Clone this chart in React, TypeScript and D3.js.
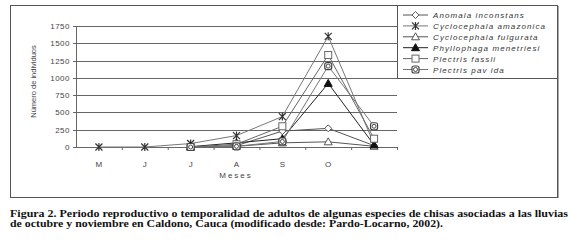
import React, { useEffect, useRef } from 'react';
import * as d3 from 'd3';

const months = ['M', 'J', 'J2', 'A', 'S', 'O', 'N'];
const monthLabels = ['M', 'J', 'J', 'A', 'S', 'O', ''];
const yTicks = [0, 250, 500, 750, 1000, 1250, 1500, 1750];

const anomala = [null, null, 0, 20, 230, 270, 20];
const amazonica = [0, 0, 50, 165, 440, 1600, 40];
const fulgurata = [null, null, 0, 10, 60, 75, 10];
const phyllophaga = [null, null, 5, 60, 120, 920, 30];
const fassli = [null, null, 0, 40, 300, 1330, 120];
const pavida = [null, null, 0, 10, 80, 1170, 300];

const seriesNames = [
  'Anomala inconstans',
  'Cyclocephala amazonica',
  'Cyclocephala fulgurata',
  'Phyllophaga menetriesi',
  'Plectris fassli',
  'Plectris pav ida',
];
const seriesValues = [anomala, amazonica, fulgurata, phyllophaga, fassli, pavida];
const seriesMarkers = ['diamond', 'cross', 'triangle', 'triangleFilled', 'square', 'circleSquare'];
const seriesColors = ['#555', '#777', '#555', '#222', '#666', '#777'];

const caption1 = 'Figura 2. Periodo reproductivo o temporalidad de adultos de algunas especies de chisas asociadas a las lluvias';
const caption2 = 'de octubre y noviembre en Caldono, Cauca (modificado desde: Pardo-Locarno, 2002).';

const App: React.FC = () => {
  const svgRef = useRef<SVGSVGElement>(null);

  useEffect(() => {
    if (!svgRef.current) return;
    const svg = d3.select(svgRef.current);
    svg.selectAll('*').remove();

    svg.append('rect').attr('width', 578).attr('height', 244).attr('fill', '#fff');

    // outer frame
    svg.append('rect')
      .attr('x', 10.5).attr('y', 5.5).attr('width', 547).attr('height', 192)
      .attr('fill', 'none').attr('stroke', '#555').attr('stroke-width', 1);
    svg.append('line')
      .attr('x1', 558.5).attr('x2', 558.5).attr('y1', 6).attr('y2', 198)
      .attr('stroke', '#aaa').attr('stroke-width', 1);

    const plot = { left: 76, right: 397, top: 26, bottom: 147 };

    const x = d3.scaleBand<string>().domain(months).range([plot.left, plot.right]);
    const y = d3.scaleLinear().domain([0, 1750]).range([plot.bottom, plot.top]);
    const cx = (i: number) => (x(months[i]) || 0) + x.bandwidth() / 2;

    // grid
    svg.append('g').selectAll('line')
      .data(yTicks.slice(1))
      .enter().append('line')
      .attr('x1', plot.left).attr('x2', plot.right)
      .attr('y1', d => Math.round(y(d)) + 0.5).attr('y2', d => Math.round(y(d)) + 0.5)
      .attr('stroke', '#666').attr('stroke-width', 1);

    // axes
    svg.append('line')
      .attr('x1', plot.left + 0.5).attr('x2', plot.left + 0.5)
      .attr('y1', plot.top).attr('y2', plot.bottom)
      .attr('stroke', '#666');
    svg.append('line')
      .attr('x1', plot.left).attr('x2', plot.right)
      .attr('y1', plot.bottom + 0.5).attr('y2', plot.bottom + 0.5)
      .attr('stroke', '#666');

    svg.append('g').selectAll('line')
      .data(yTicks)
      .enter().append('line')
      .attr('x1', plot.left - 3).attr('x2', plot.left)
      .attr('y1', d => Math.round(y(d)) + 0.5).attr('y2', d => Math.round(y(d)) + 0.5)
      .attr('stroke', '#666');

    svg.append('g').selectAll('line')
      .data(months.slice(1).concat(['end']))
      .enter().append('line')
      .attr('x1', (d, i) => plot.left + x.bandwidth() * (i + 1) + 0.5)
      .attr('x2', (d, i) => plot.left + x.bandwidth() * (i + 1) + 0.5)
      .attr('y1', plot.bottom).attr('y2', plot.bottom + 3)
      .attr('stroke', '#666');

    svg.append('g').selectAll('text')
      .data(yTicks)
      .enter().append('text')
      .attr('x', plot.left - 6).attr('y', d => y(d) + 3)
      .attr('text-anchor', 'end')
      .attr('font-family', 'Liberation Sans, Arial, sans-serif')
      .attr('font-size', '8px').attr('fill', '#444')
      .attr('letter-spacing', '0.5px')
      .text(d => d);

    svg.append('g').selectAll('text')
      .data(monthLabels)
      .enter().append('text')
      .attr('x', (d, i) => cx(i)).attr('y', 167)
      .attr('text-anchor', 'middle')
      .attr('font-family', 'Liberation Sans, Arial, sans-serif')
      .attr('font-size', '8px').attr('fill', '#444')
      .text(d => d);

    svg.append('text')
      .attr('x', 236).attr('y', 178)
      .attr('text-anchor', 'middle')
      .attr('font-family', 'Liberation Sans, Arial, sans-serif')
      .attr('font-size', '8px').attr('fill', '#444')
      .attr('letter-spacing', '2px')
      .text('Meses');

    svg.append('text')
      .attr('transform', `translate(36, ${(plot.top + plot.bottom) / 2 - 5}) rotate(-90)`)
      .attr('text-anchor', 'middle')
      .attr('font-family', 'Liberation Sans, Arial, sans-serif')
      .attr('font-size', '7.5px').attr('fill', '#444')
      .text('Número de individuos');

    const drawMarker = (g: d3.Selection<SVGGElement, unknown, null, undefined>, type: string, px: number, py: number, color: string) => {
      if (type === 'diamond') {
        g.append('path').attr('d', `M${px},${py - 3.5}L${px + 3.5},${py}L${px},${py + 3.5}L${px - 3.5},${py}Z`)
          .attr('fill', '#fff').attr('stroke', color);
      } else if (type === 'cross') {
        g.append('path').attr('d', `M${px - 3.5},${py - 3.5}L${px + 3.5},${py + 3.5}M${px - 3.5},${py + 3.5}L${px + 3.5},${py - 3.5}M${px},${py - 4}L${px},${py + 4}`)
          .attr('stroke', '#333').attr('stroke-width', 1.2);
      } else if (type === 'triangle') {
        g.append('path').attr('d', `M${px},${py - 4}L${px + 4},${py + 3}L${px - 4},${py + 3}Z`)
          .attr('fill', '#fff').attr('stroke', color);
      } else if (type === 'triangleFilled') {
        g.append('path').attr('d', `M${px},${py - 4}L${px + 4},${py + 3}L${px - 4},${py + 3}Z`)
          .attr('fill', '#111').attr('stroke', '#111');
      } else if (type === 'square') {
        g.append('rect').attr('x', px - 3.5).attr('y', py - 3.5).attr('width', 7).attr('height', 7)
          .attr('fill', '#fff').attr('stroke', color);
      } else {
        g.append('rect').attr('x', px - 3.5).attr('y', py - 3.5).attr('width', 7).attr('height', 7)
          .attr('rx', 2).attr('fill', '#fff').attr('stroke', '#444').attr('stroke-width', 1.2);
        g.append('circle').attr('cx', px).attr('cy', py).attr('r', 2).attr('fill', 'none').attr('stroke', '#444');
      }
    };

    const line = d3.line<number | null>()
      .defined(d => d !== null)
      .x((d, i) => cx(i))
      .y(d => y(d as number));

    seriesValues.forEach((vals, s) => {
      svg.append('path')
        .datum(vals)
        .attr('fill', 'none')
        .attr('stroke', seriesColors[s])
        .attr('stroke-width', 1)
        .attr('d', line);
    });
    seriesValues.forEach((vals, s) => {
      const g = svg.append('g');
      vals.forEach((v, i) => {
        if (v === null) return;
        drawMarker(g, seriesMarkers[s], cx(i), y(v), seriesColors[s]);
      });
    });

    // legend
    const lg = svg.append('g');
    lg.append('rect')
      .attr('x', 397.5).attr('y', 5.5).attr('width', 160).attr('height', 73)
      .attr('fill', '#fff').attr('stroke', '#555');
    seriesNames.forEach((name, i) => {
      const ly = 15 + i * 10.9;
      const g = lg.append('g');
      g.append('line').attr('x1', 403).attr('x2', 428).attr('y1', ly).attr('y2', ly)
        .attr('stroke', seriesColors[i]);
      drawMarker(g, seriesMarkers[i], 415.5, ly, seriesColors[i]);
      g.append('text')
        .attr('x', 433).attr('y', ly + 3)
        .attr('font-family', 'Liberation Sans, Arial, sans-serif')
        .attr('font-style', 'italic')
        .attr('font-size', '8px').attr('fill', '#333')
        .attr('letter-spacing', '1.1px')
        .text(name);
    });

    // caption
    svg.append('text')
      .attr('x', 10).attr('y', 217)
      .attr('font-family', 'Liberation Serif, Times New Roman, serif')
      .attr('font-weight', 'bold')
      .attr('font-size', '10.5px').attr('fill', '#111')
      .attr('textLength', 558).attr('lengthAdjust', 'spacingAndGlyphs')
      .text(caption1);
    svg.append('text')
      .attr('x', 10).attr('y', 227)
      .attr('font-family', 'Liberation Serif, Times New Roman, serif')
      .attr('font-weight', 'bold')
      .attr('font-size', '10.5px').attr('fill', '#111')
      .attr('textLength', 433).attr('lengthAdjust', 'spacingAndGlyphs')
      .text(caption2);
  }, []);

  return (
    <svg ref={svgRef} width={578} height={244}
      style={{ position: 'absolute', left: 0, top: 0, display: 'block' }} />
  );
};

export default App;
